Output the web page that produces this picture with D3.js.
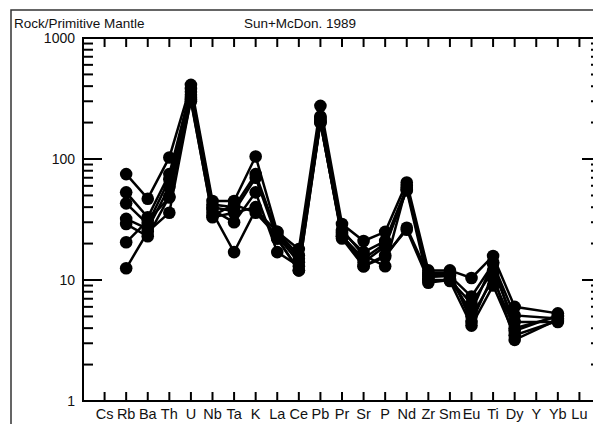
<!DOCTYPE html>
<html>
<head>
<meta charset="utf-8">
<script src="https://cdn.jsdelivr.net/npm/d3@7"></script>
<style>
  body { margin: 0; background: #fff; }
  text { font-family: "Liberation Sans", Arial, sans-serif; fill: #111; }
</style>
</head>
<body>
<div id="chart"></div>
<script>
let w = 593;
let h = 424;

// elements on the x axis
let elements = ["Cs","Rb","Ba","Th","U","Nb","Ta","K","La","Ce","Pb","Pr","Sr","P","Nd","Zr","Sm","Eu","Ti","Dy","Y","Yb","Lu"];

// samples (rock / primitive mantle), null = not analysed
// order: Cs Rb Ba Th U Nb Ta K La Ce Pb Pr Sr P Nd Zr Sm Eu Ti Dy Y Yb Lu
let sample1 = [null, 75, 47, 103, 410, 45, 45, 105, 25, 18, 275, 29, 21, 25, 64, 12, 12, 10.4, 15.8, 6.0, null, 5.3, null];
let sample2 = [null, 53, 33, 75, 380, 42, 40, 75, 24, 15, 225, 25, 17, 21, 58, 10.6, 10.8, 7.3, 13.6, 5.1, null, 4.8, null];
let sample3 = [null, 43, 29, 68, 360, 40, 37, 70, 22, 12, 200, 23, 15, 20, 55, 9.5, 10, 6.4, 12, 4.5, null, 4.5, null];
let sample4 = [null, 32, 26.5, 59, 340, 38, 30, 53, 17, 13, 210, 24, 13, 15.5, 27, 11, 11, 5.0, 10.2, 4.0, null, 5.0, null];
let sample5 = [null, 29, 23, 49, 320, 36, 17, 38, 25, 16, 220, 26, 16, 13, 60, 10, 9.8, 4.2, 9.0, 3.5, null, 4.6, null];
let sample6 = [null, 20.5, 31, 48, 300, 34, 42, 36, 23, 14, 200, 23, 14, 19, 56, 11.5, 11.5, 4.5, 11, 3.2, null, 4.7, null];
let sample7 = [null, 12.5, 25, 36, 310, 33, 36, 40, 22, 12, 205, 22, 13, 16, 26, 10, 10, 5.5, 14, 3.8, null, 5.1, null];

let samples = [sample1, sample2, sample3, sample4, sample5, sample6, sample7];

let yMajor = [1, 10, 100, 1000];

let plotLeft = 83, plotRight = 601, plotTop = 38, plotBottom = 401;

let viz = d3.select("#chart")
  .append("svg")
    .attr("width", w)
    .attr("height", h);

// outer frame
viz.append("rect")
  .attr("x", 11).attr("y", 10)
  .attr("width", 620).attr("height", 440)
  .attr("fill", "none")
  .attr("stroke", "#333")
  .attr("stroke-width", 1.5);

// titles
viz.append("text")
  .attr("x", 14).attr("y", 28)
  .attr("font-size", 13.5)
  .text("Rock/Primitive Mantle");

viz.append("text")
  .attr("x", 300).attr("y", 28)
  .attr("font-size", 13.5)
  .attr("text-anchor", "middle")
  .text("Sun+McDon. 1989");

let x = d3.scalePoint()
  .domain(elements)
  .range([plotLeft, plotRight])
  .padding(1);

let y = d3.scaleLog()
  .domain([1, 1000])
  .range([plotBottom, plotTop]);

///////////////////////////////////////////////////////////////////
// axes box
viz.append("rect")
  .attr("x", plotLeft).attr("y", plotTop)
  .attr("width", plotRight - plotLeft).attr("height", plotBottom - plotTop)
  .attr("fill", "none")
  .attr("stroke", "#000")
  .attr("stroke-width", 2);

// y ticks (major + minor), on left and right side, pointing inward
let yTicks = y.ticks();
let ticksG = viz.append("g").attr("stroke", "#000").attr("stroke-width", 2);

ticksG.selectAll(".yl").data(yTicks).enter()
  .append("line")
    .attr("x1", plotLeft)
    .attr("x2", function(d){ return yMajor.includes(d) ? plotLeft + 19 : plotLeft + 10; })
    .attr("y1", function(d){ return y(d); })
    .attr("y2", function(d){ return y(d); });

ticksG.selectAll(".yr").data(yTicks).enter()
  .append("line")
    .attr("x1", plotRight)
    .attr("x2", function(d){ return yMajor.includes(d) ? plotRight - 19 : plotRight - 10; })
    .attr("y1", function(d){ return y(d); })
    .attr("y2", function(d){ return y(d); });

// x ticks top and bottom
ticksG.selectAll(".xb").data(elements).enter()
  .append("line")
    .attr("x1", function(d){ return x(d); })
    .attr("x2", function(d){ return x(d); })
    .attr("y1", plotBottom)
    .attr("y2", plotBottom - 9);

ticksG.selectAll(".xt").data(elements).enter()
  .append("line")
    .attr("x1", function(d){ return x(d); })
    .attr("x2", function(d){ return x(d); })
    .attr("y1", plotTop)
    .attr("y2", plotTop + 9);

// y labels
viz.selectAll(".ylab").data(yMajor).enter()
  .append("text")
    .attr("x", 75)
    .attr("y", function(d){ return y(d) + 5; })
    .attr("font-size", 14)
    .attr("text-anchor", "end")
    .text(function(d){ return d; });

// x labels
viz.selectAll(".xlab").data(elements).enter()
  .append("text")
    .attr("x", function(d){ return x(d); })
    .attr("y", 419)
    .attr("font-size", 14.5)
    .attr("text-anchor", "middle")
    .text(function(d){ return d; });

///////////////////////////////////////////////////////////////////
// sample lines and dots
let line = d3.line()
  .x(function(d){ return x(d.el); })
  .y(function(d){ return y(d.v); });

samples.forEach(function(s){
  let pts = [];
  s.forEach(function(v, i){
    if (v != null) pts.push({el: elements[i], v: v});
  });

  viz.append("path")
    .datum(pts)
    .attr("d", line)
    .attr("fill", "none")
    .attr("stroke", "#000")
    .attr("stroke-width", 2.5);

  viz.append("g").selectAll("circle").data(pts).enter()
    .append("circle")
      .attr("cx", function(d){ return x(d.el); })
      .attr("cy", function(d){ return y(d.v); })
      .attr("r", 6.3)
      .attr("fill", "#000");
});
</script>
</body>
</html>
